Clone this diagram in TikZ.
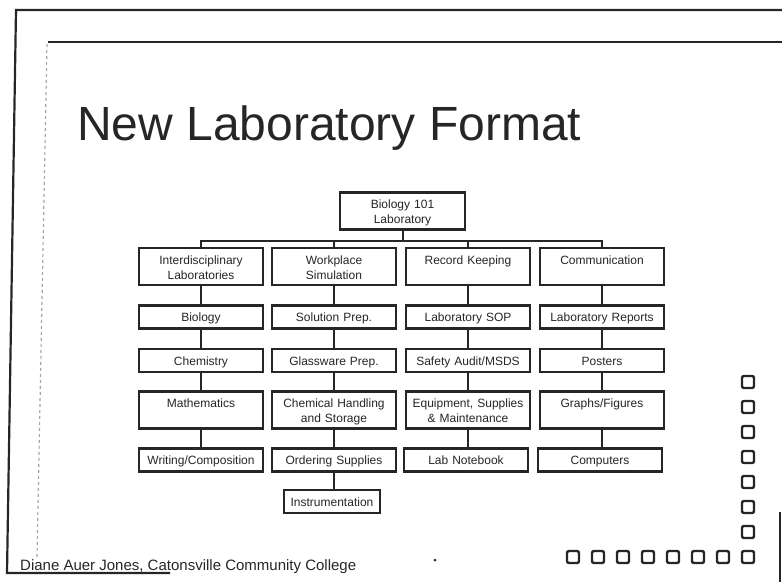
\documentclass[tikz,border=0pt]{standalone}
\usepackage{fontspec}
\setmainfont{Liberation Sans}
\usepackage{tikz}
\usetikzlibrary{positioning, calc}
\definecolor{labInk}{HTML}{262626}
\definecolor{labGrey}{HTML}{A6A6A6}

\tikzset{
  labbox/.style={draw=labInk, line width=2.4pt, fill=white, text=labInk,
    minimum width=124pt, text width=118pt, inner sep=2pt, align=center,
    font=\fontsize{12}{15}\selectfont, text height=14pt, text depth=5pt},
  tallbox/.style={labbox, text depth=19pt},
  link/.style={draw=labInk, line width=2pt},
  pip/.style={draw=labInk, line width=2.4pt, rounded corners=2pt, fill=white}
}

\begin{document}
\begin{tikzpicture}[x=1pt, y=-1pt]
  \useasboundingbox (0,0) rectangle (782,582);

  % slide frame
  \draw[labInk, line width=2.2pt] (782,10) -- (16,10) -- (7,573) -- (170,573);
  \draw[labInk, line width=2.2pt] (48,42) -- (782,42);
  \draw[labGrey, line width=1.2pt, dashed] (47,44) -- (37,557);
  \draw[labInk, line width=2pt] (780,512) -- (780,582);

  \node[anchor=base west, inner sep=0, text=labInk,
        font=\fontsize{48}{56}\selectfont] (title) at (77,140) {New Laboratory Format};

  % chart
  \node[tallbox, minimum width=125pt] (root) at (402.5,211) {Biology 101\\Laboratory};

  \node[tallbox] (intlab) at (201,266.5) {Interdisciplinary\\Laboratories};
  \node[tallbox] (work)   at (334,266.5) {Workplace\\Simulation};
  \node[tallbox] (record) at (468,266.5) {Record Keeping};
  \node[tallbox] (comm)   at (602,266.5) {Communication};

  \node[labbox]  (bio)     at (201,317)   {Biology};
  \node[labbox]  (chem)    at (201,360.5) {Chemistry};
  \node[tallbox] (math)    at (201,410)   {Mathematics};
  \node[labbox]  (writing) at (201,460)   {Writing/Composition};

  \node[labbox]  (solprep)  at (334,317)   {Solution Prep.};
  \node[labbox]  (glass)    at (334,360.5) {Glassware Prep.};
  \node[tallbox] (chemhand) at (334,410)   {Chemical Handling\\and Storage};
  \node[labbox]  (ordering) at (334,460)   {Ordering Supplies};
  \node[labbox, minimum width=96pt, text width=90pt] (instr) at (332,501.5) {Instrumentation};

  \node[labbox]  (labsop)   at (468,317)   {Laboratory SOP};
  \node[labbox]  (safety)   at (468,360.5) {Safety Audit/MSDS};
  \node[tallbox] (equip)    at (468,410)   {Equipment, Supplies\\\& Maintenance};
  \node[labbox]  (notebook) at (466,460)   {Lab Notebook};

  \node[labbox]  (labrep)    at (602,317)   {Laboratory Reports};
  \node[labbox]  (posters)   at (602,360.5) {Posters};
  \node[tallbox] (graphs)    at (602,410)   {Graphs/Figures};
  \node[labbox]  (computers) at (600,460)   {Computers};

  \coordinate (bus) at (402.5,241);
  \draw[link] (root.south) -- (bus);
  \foreach \n in {intlab, work, record, comm}
    \draw[link] (bus) -| (\n.north);

  \foreach \a/\b in {intlab/bio, bio/chem, chem/math, math/writing,
                     work/solprep, solprep/glass, glass/chemhand, chemhand/ordering, ordering/instr,
                     record/labsop, labsop/safety, safety/equip, equip/notebook,
                     comm/labrep, labrep/posters, posters/graphs, graphs/computers}
    \draw[link] (\a.south) -- (\a.south |- \b.north);

  % footer
  \node[anchor=west, inner sep=0, text=labInk,
        font=\fontsize{15}{18}\selectfont] (credit) at (20,567)
    {Diane Auer Jones, Catonsville Community College};
  \fill[labInk] (435,560) circle (1.5);

  % corner pips
  \foreach \k in {0,...,7}
    \draw[pip] (567+25*\k,551) rectangle ++(12,12);
  \foreach \k in {1,...,7}
    \draw[pip] (742,551-25*\k) rectangle ++(12,12);
\end{tikzpicture}
\end{document}
